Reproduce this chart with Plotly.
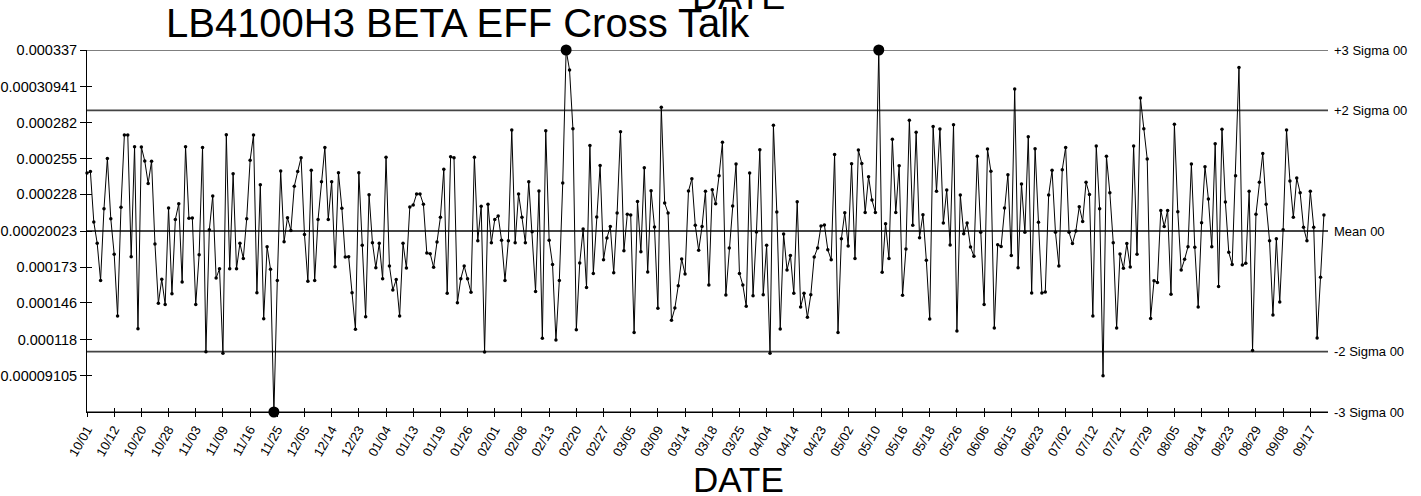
import plotly.graph_objects as go

# ---------------- data ----------------
tick_labels = ["10/01","10/12","10/20","10/28","11/03","11/09","11/16","11/25","12/05","12/14",
               "12/23","01/04","01/13","01/19","01/26","02/01","02/08","02/13","02/20","02/27",
               "03/05","03/09","03/14","03/18","03/25","04/04","04/14","04/23","05/02","05/10",
               "05/16","05/18","05/26","06/06","06/15","06/23","07/02","07/12","07/21","07/29",
               "08/05","08/14","08/23","08/29","09/08","09/17"]
samples_per_label = 8

# cross talk values, in units of 1e-6
cross_talk_e6 = [
    244.1, 245.1, 207.0, 190.9, 162.9, 217.1, 255.1, 209.5, 182.6, 136.0,
    218.1, 272.8, 272.8, 180.8, 263.9, 126.4, 263.7, 253.1, 236.2, 252.9,
    190.4, 145.6, 163.7, 144.6, 217.6, 152.9, 209.0, 220.9, 161.7, 263.9,
    209.8, 210.0, 144.6, 182.3, 263.4, 109.0, 201.2, 226.7, 164.7, 171.7,
    107.8, 273.0, 171.7, 243.5, 171.7, 190.9, 179.5, 209.5, 253.6, 272.8,
    153.6, 235.2, 134.0, 188.4, 171.3, 63.46, 162.9, 245.5, 192.2, 210.3,
    200.7, 234.0, 245.1, 255.6, 197.5, 162.2, 246.1, 162.9, 209.0, 237.5,
    263.4, 209.0, 237.5, 173.3, 244.3, 217.4, 180.6, 180.8, 153.6, 125.9,
    244.3, 189.4, 135.5, 227.7, 191.4, 172.5, 190.9, 164.2, 255.9, 173.8,
    155.6, 163.5, 136.0, 190.9, 172.3, 218.4, 219.9, 228.2, 228.2, 220.4,
    183.6, 183.1, 172.8, 191.9, 210.6, 246.8, 153.1, 256.4, 255.6, 146.1,
    164.2, 173.8, 164.2, 153.9, 255.9, 192.9, 218.9, 108.8, 220.4, 191.4,
    209.0, 211.6, 193.2, 162.9, 192.9, 276.6, 191.4, 228.2, 210.6, 191.4,
    237.5, 199.7, 154.6, 230.4, 119.1, 276.0, 193.2, 175.0, 117.8, 162.9,
    236.5, 337.0, 321.9, 277.5, 125.6, 176.0, 201.7, 157.6, 264.9, 168.2,
    210.8, 249.8, 178.5, 194.9, 203.7, 168.7, 213.8, 275.3, 185.3, 212.8,
    212.3, 123.6, 222.6, 184.6, 248.1, 169.2, 230.7, 203.2, 141.8, 293.7,
    221.4, 213.8, 132.7, 142.0, 158.9, 179.1, 167.7, 230.4, 239.8, 204.5,
    185.6, 203.7, 230.2, 159.4, 231.4, 220.9, 242.0, 267.2, 151.8, 187.4,
    219.1, 250.8, 168.2, 159.4, 143.3, 244.1, 151.3, 199.5, 261.7, 152.1,
    189.4, 107.8, 280.1, 214.6, 126.2, 198.0, 170.8, 181.8, 153.1, 222.4,
    142.8, 153.1, 135.0, 152.1, 180.6, 187.4, 204.0, 204.8, 186.1, 178.5,
    258.1, 123.6, 194.4, 214.1, 188.9, 251.1, 179.5, 261.4, 251.3, 214.3,
    241.3, 223.6, 214.3, 337.0, 169.0, 205.8, 179.5, 269.5, 214.3, 249.6,
    151.6, 186.6, 283.9, 204.5, 274.8, 195.2, 212.6, 178.1, 133.7, 279.1,
    230.2, 277.3, 206.3, 231.2, 189.7, 280.6, 124.7, 227.4, 198.2, 206.3,
    188.1, 181.1, 256.7, 199.2, 144.6, 262.2, 245.3, 126.9, 189.9, 188.6,
    217.6, 242.8, 181.8, 307.5, 172.5, 235.7, 199.2, 271.5, 153.4, 262.4,
    206.8, 153.4, 154.1, 227.4, 246.1, 199.2, 173.8, 246.6, 263.4, 199.2,
    190.7, 200.2, 218.6, 207.5, 237.0, 227.9, 136.0, 264.4, 217.1, 90.9,
    256.7, 229.2, 191.4, 126.9, 182.8, 172.0, 190.7, 173.0, 264.4, 182.6,
    300.7, 277.5, 254.6, 134.2, 162.7, 161.4, 215.8, 203.7, 215.8, 152.4,
    280.8, 214.8, 170.8, 178.8, 188.4, 250.8, 187.9, 142.8, 206.5, 248.8,
    224.4, 188.4, 266.2, 158.2, 277.1, 222.2, 184.1, 175.0, 242.0, 323.7,
    174.5, 175.8, 230.2, 110.0, 212.8, 237.0, 258.7, 220.4, 192.9, 136.8,
    194.4, 146.6, 201.2, 276.6, 238.0, 210.6, 240.3, 229.2, 203.0, 192.9,
    230.2, 203.0, 119.4, 165.2, 212.3,
]

limit_names = ["+3 Sigma 00", "+2 Sigma 00", "Mean 00", "-2 Sigma 00", "-3 Sigma 00"]
limit_values = [0.000337, 0.00029141, 0.00020023, 0.00010905, 0.00006346]

y_tick_values = [0.000337, 0.00030941, 0.000282, 0.000255, 0.000228,
                 0.00020023, 0.000173, 0.000146, 0.000118, 0.00009105]
y_tick_text = ["0.000337", "0.00030941", "0.000282", "0.000255", "0.000228",
               "0.00020023", "0.000173", "0.000146", "0.000118", "0.00009105"]

# ---------------- figure ----------------
y = [v * 1e-6 for v in cross_talk_e6]
x = list(range(len(y)))
ucl3, lcl3 = limit_values[0], limit_values[-1]
out_x = [i for i, v in zip(x, y) if v >= ucl3 - 1e-9 or v <= lcl3 + 1e-9]
out_y = [y[i] for i in out_x]

FONT = "Arial, 'Liberation Sans', sans-serif"
x_tickvals = [i * samples_per_label for i in range(len(tick_labels))]
x_max = len(y) - 1 + 1.2
eps = 1e-11
y_range = [lcl3 - eps, ucl3 + eps]

fig = go.Figure()
fig.add_trace(go.Scatter(x=x, y=y, mode="lines+markers",
                         line=dict(color="black", width=1),
                         marker=dict(color="black", size=3.5),
                         showlegend=False, hoverinfo="x+y", cliponaxis=False))
fig.add_trace(go.Scatter(x=out_x, y=out_y, mode="markers",
                         marker=dict(color="black", size=11),
                         showlegend=False, cliponaxis=False))
# invisible trace on overlay axes (inside tick marks)
fig.add_trace(go.Scatter(x=[0], y=[limit_values[2]], xaxis="x2", yaxis="y2",
                         mode="markers", marker=dict(opacity=0), showlegend=False,
                         hoverinfo="skip"))

line_styles = {0: ("black", 1), 1: ("#444444", 1.6), 2: ("#444444", 2), 3: ("#444444", 1.6), 4: ("black", 1)}
for k, (name, val) in enumerate(zip(limit_names, limit_values)):
    col, w = line_styles[k]
    fig.add_shape(type="line", xref="paper", yref="y", x0=0, x1=1, y0=val, y1=val,
                  line=dict(color=col, width=w), layer="below")
    fig.add_annotation(xref="paper", yref="y", x=1, y=val, text=name, showarrow=False,
                       xanchor="left", yanchor="middle", xshift=4,
                       font=dict(family=FONT, size=13, color="black"))

fig.add_annotation(xref="paper", yref="paper", x=0.5246, y=-0.127, yanchor="top",
                   text="DATE", showarrow=False,
                   font=dict(family=FONT, size=35, color="black"))
fig.add_annotation(xref="paper", yref="paper", x=0.5246, y=1.0856, yanchor="bottom",
                   text="DATE", showarrow=False,
                   font=dict(family=FONT, size=36, color="black"))

axis_common = dict(showgrid=False, zeroline=False, automargin=False)
fig.update_layout(
    width=1421, height=496,
    margin=dict(l=87, r=93, t=50, b=84, autoexpand=False),
    paper_bgcolor="white", plot_bgcolor="white",
    title=dict(text="LB4100H3 BETA EFF Cross Talk", x=0.322, xref="container", xanchor="center",
               y=1 - 23 / 496, yref="container", yanchor="middle",
               font=dict(family=FONT, size=40, color="black")),
    xaxis=dict(range=[0, x_max], tickmode="array", tickvals=x_tickvals, ticktext=tick_labels,
               tickangle=-60, ticks="outside", ticklen=4, tickcolor="black", tickwidth=1,
               showline=True, linecolor="black", linewidth=1,
               tickfont=dict(family=FONT, size=13, color="black"), **axis_common),
    yaxis=dict(range=y_range, tickmode="array",
               tickvals=y_tick_values, ticktext=y_tick_text,
               ticks="outside", ticklen=6, tickcolor="black", tickwidth=1,
               showline=True, linecolor="black", linewidth=1,
               tickfont=dict(family=FONT, size=14.5, color="black"), **axis_common),
    xaxis2=dict(overlaying="x", range=[0, x_max], tickmode="array", tickvals=x_tickvals,
                ticks="inside", ticklen=4, tickcolor="black", showticklabels=False,
                showline=False, **axis_common),
    yaxis2=dict(overlaying="y", range=y_range, tickmode="array",
                tickvals=y_tick_values, ticks="inside", ticklen=5, tickcolor="black",
                showticklabels=False, showline=False, **axis_common),
    font=dict(family=FONT, color="black"),
)

fig.write_html("out.html", config={"displayModeBar": False},
               post_script="document.body.style.margin='0';document.body.style.overflow='hidden';")
